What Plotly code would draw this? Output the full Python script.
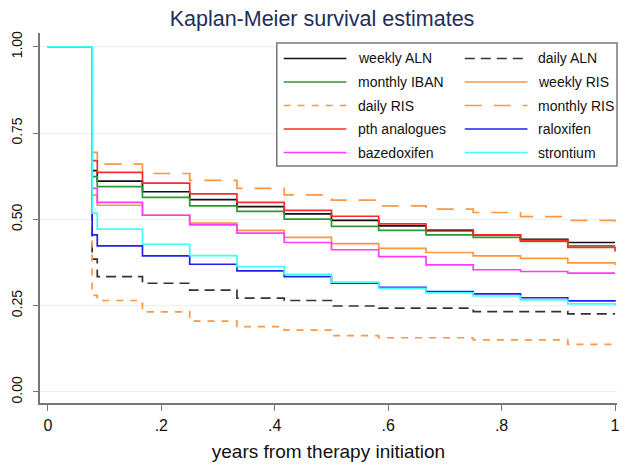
import plotly.graph_objects as go

# ---- data ----
step_times = [0.0, 0.078, 0.087, 0.1667, 0.25, 0.3333, 0.4167, 0.5, 0.5833,
              0.6667, 0.75, 0.8333, 0.9167, 1.0]

series_names = ["weekly ALN", "daily ALN", "monthly IBAN", "weekly RIS",
                "daily RIS", "monthly RIS", "pth analogues", "raloxifen",
                "bazedoxifen", "strontium"]

weekly_aln   = [1, 0.641, 0.611, 0.580, 0.557, 0.537, 0.516, 0.497, 0.481, 0.467, 0.455, 0.442, 0.433, 0.433]
daily_aln    = [1, 0.385, 0.334, 0.315, 0.295, 0.272, 0.265, 0.249, 0.243, 0.243, 0.233, 0.233, 0.226, 0.226]
monthly_iban = [1, 0.624, 0.595, 0.564, 0.539, 0.523, 0.501, 0.480, 0.468, 0.455, 0.448, 0.436, 0.423, 0.423]
weekly_ris   = [1, 0.570, 0.541, 0.512, 0.489, 0.468, 0.448, 0.430, 0.416, 0.404, 0.394, 0.387, 0.374, 0.368]
daily_ris    = [1, 0.280, 0.265, 0.232, 0.205, 0.189, 0.179, 0.163, 0.157, 0.157, 0.151, 0.151, 0.138, 0.138]
monthly_ris  = [1, 0.694, 0.660, 0.633, 0.613, 0.590, 0.571, 0.556, 0.539, 0.530, 0.520, 0.508, 0.497, 0.490]
pth          = [1, 0.670, 0.636, 0.605, 0.574, 0.549, 0.526, 0.509, 0.487, 0.470, 0.455, 0.439, 0.419, 0.407]
raloxifen    = [1, 0.455, 0.423, 0.394, 0.370, 0.351, 0.334, 0.315, 0.303, 0.291, 0.284, 0.273, 0.264, 0.262]
bazedoxifen  = [1, 0.590, 0.549, 0.512, 0.484, 0.460, 0.433, 0.412, 0.392, 0.368, 0.354, 0.349, 0.344, 0.344]
strontium    = [1, 0.518, 0.472, 0.428, 0.395, 0.363, 0.341, 0.318, 0.300, 0.287, 0.278, 0.267, 0.255, 0.250]

series_values = [weekly_aln, daily_aln, monthly_iban, weekly_ris, daily_ris,
                 monthly_ris, pth, raloxifen, bazedoxifen, strontium]

x_tick_vals = [0, 0.2, 0.4, 0.6, 0.8, 1]
x_tick_text = ["0", ".2", ".4", ".6", ".8", "1"]
y_tick_vals = [0, 0.25, 0.5, 0.75, 1]
y_tick_text = ["0.00", "0.25", "0.50", "0.75", "1.00"]

# ---- styles ----
colors = ["#111111", "#333333", "#2e962e", "#ff9640", "#ff9640",
          "#ff9640", "#ff2a2a", "#2020f0", "#ff3cff", "#40ffff"]
dashes = ["solid", "10px,6px", "solid", "solid", "7px,7px",
          "17px,12px", "solid", "solid", "solid", "solid"]

FONT = "Liberation Sans, Arial, Helvetica, sans-serif"

fig = go.Figure()
for name, vals, c, d in zip(series_names, series_values, colors, dashes):
    fig.add_trace(go.Scatter(x=step_times, y=vals, mode="lines", name=name,
                             line=dict(color=c, width=1.7, dash=d, shape="hv"),
                             showlegend=False))

# ---- plot geometry (pixels) ----
W, H = 625, 465
L, R, T, B = 40, 5, 33, 62
pw, ph = W - L - R, H - T - B

def px_x(px):
    return (px - L) / pw

def px_y(py):
    return (H - B - py) / ph

shapes = []
annotations = []
# legend box
shapes.append(dict(type="rect", xref="paper", yref="paper",
                   x0=px_x(278), x1=px_x(620), y0=px_y(166), y1=px_y(43),
                   line=dict(color="#777777", width=1.5), fillcolor="white",
                   layer="above"))
col_line = [(285, 348, 358), (467, 530, 539)]
for i, (name, c, d) in enumerate(zip(series_names, colors, dashes)):
    r, k = divmod(i, 2)
    yy = px_y(58.5 + 23.5 * r)
    lx0, lx1, tx = col_line[k]
    shapes.append(dict(type="line", xref="paper", yref="paper",
                       x0=px_x(lx0), x1=px_x(lx1), y0=yy, y1=yy,
                       line=dict(color=c, width=1.7, dash=d), layer="above"))
    annotations.append(dict(xref="paper", yref="paper", x=px_x(tx), y=yy,
                            text=name, showarrow=False, xanchor="left",
                            yanchor="middle",
                            font=dict(family=FONT, size=14, color="#111111")))

fig.update_layout(
    width=W, height=H,
    margin=dict(l=L, r=R, t=T, b=B),
    paper_bgcolor="white", plot_bgcolor="white",
    title=dict(text="Kaplan-Meier survival estimates", x=322 / W, xref="container",
               xanchor="center", y=1 - 18 / H, yref="container", yanchor="middle",
               font=dict(family=FONT, size=21.5, color="#1e2d59")),
    shapes=shapes, annotations=annotations,
    showlegend=False,
)
fig.update_xaxes(range=[-0.014, 1.0035], tickvals=x_tick_vals, ticktext=x_tick_text,
                 showgrid=False, zeroline=False, showline=True,
                 linecolor="#777777", linewidth=1.5,
                 ticks="outside", ticklen=6, tickcolor="#777777", tickwidth=1.2,
                 ticklabelstandoff=1,
                 tickfont=dict(family=FONT, size=16, color="#111111"),
                 title=dict(text="years from therapy initiation", standoff=12,
                            font=dict(family=FONT, size=19, color="#111111")))
fig.update_yaxes(range=[-0.032, 1.04], tickvals=y_tick_vals, ticktext=y_tick_text,
                 showgrid=True, gridcolor="#e9f0f6", gridwidth=1,
                 zeroline=False, showline=True,
                 linecolor="#777777", linewidth=1.5,
                 ticks="outside", ticklen=5, tickcolor="#777777", tickwidth=1.2,
                 tickangle=-90, ticklabelstandoff=6,
                 tickfont=dict(family=FONT, size=14, color="#111111"))

fig.write_html("out.html", config={"displayModeBar": False},
               post_script="document.body.style.margin='0';document.body.style.padding='0';")
